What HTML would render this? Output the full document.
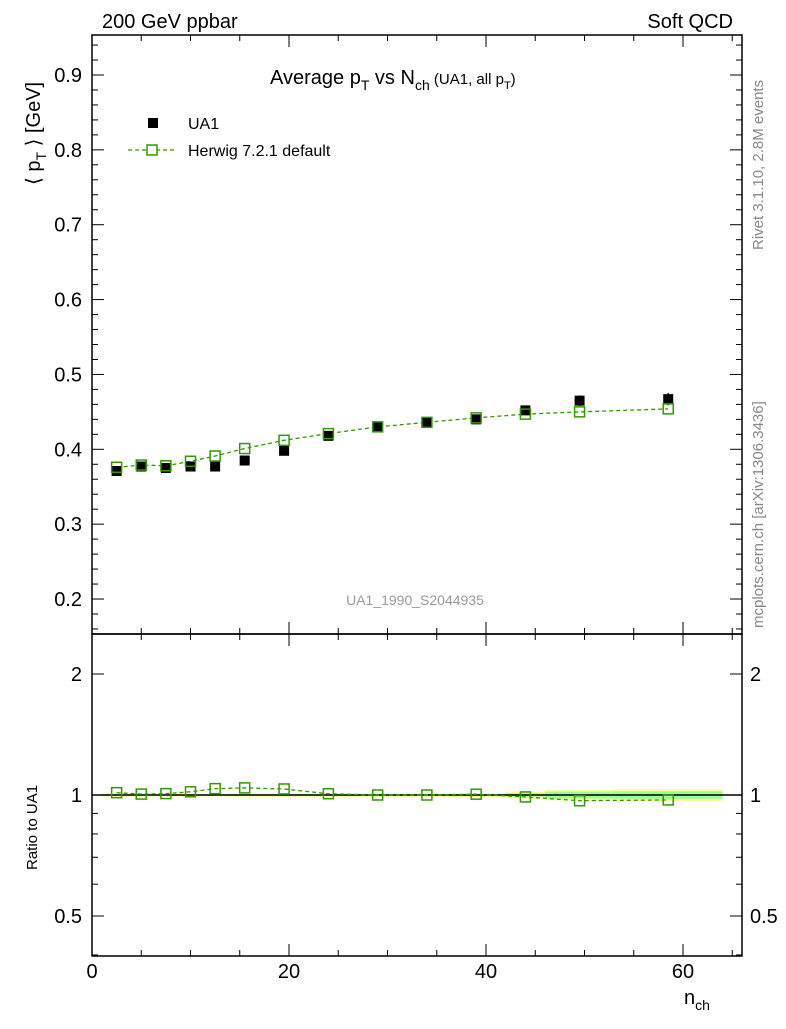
<!DOCTYPE html>
<html><head><meta charset="utf-8"><style>
body{margin:0;background:#fff;}
svg text{font-family:"Liberation Sans",sans-serif;}
</style></head><body>
<svg id="c" width="786" height="1024" xmlns="http://www.w3.org/2000/svg"></svg>
<script>
const xs=[2.5,5,7.5,10,12.5,15.5,19.5,24,29,34,39,44,49.5,58.5];
const edges=[1,4,6.5,9,11.5,14,17,22,26,32,36,42,46,53,64];
const ua1=[0.371,0.377,0.375,0.377,0.377,0.385,0.398,0.418,0.430,0.436,0.440,0.452,0.465,0.467];
const ua1Err=[0.004,0.003,0.003,0.003,0.003,0.003,0.003,0.004,0.004,0.004,0.005,0.006,0.007,0.008];
const herwig=[0.376,0.379,0.378,0.384,0.391,0.401,0.412,0.421,0.430,0.436,0.442,0.447,0.450,0.454];
const bandTot=[0.01,0.008,0.008,0.008,0.008,0.01,0.01,0.01,0.01,0.01,0.012,0.02,0.03,0.035];
const bandStat=[0.005,0.004,0.004,0.004,0.004,0.005,0.005,0.005,0.005,0.005,0.006,0.01,0.02,0.022];
const yTicks=[0.2,0.3,0.4,0.5,0.6,0.7,0.8,0.9];
const xTicks=[0,20,40,60];
const rTicks=[0.5,1,2];

const svg=document.getElementById('c');
const NS='http://www.w3.org/2000/svg';
function el(t,a,txt){const e=document.createElementNS(NS,t);for(const k in a)e.setAttribute(k,a[k]);if(txt!==undefined)e.textContent=txt;svg.appendChild(e);return e;}
const L=92,R=742,T1=35,B1=634,B2=956;
const X=v=>L+v*(683-92)/60;
const Y=v=>75+(0.9-v)*748.6;
const RY=v=>795-Math.log10(v)*402;

// frames
let f=el('rect',{x:L,y:T1,width:R-L,height:B1-T1,fill:'none',stroke:'#000','stroke-width':1.5});

f=el('rect',{x:L,y:B1,width:R-L,height:B2-B1,fill:'none',stroke:'#000','stroke-width':1.5});


// y ticks main
for(let v=0.16;v<=0.95;v+=0.02){const vv=Math.round(v*100)/100;const maj=Math.abs(vv*10-Math.round(vv*10))<1e-6;const len=maj?12:6;const y=Y(vv);
 el('line',{x1:L,x2:L+len,y1:y,y2:y,stroke:'#000'});el('line',{x1:R-len,x2:R,y1:y,y2:y,stroke:'#000'});}
yTicks.forEach(v=>{const t=el('text',{x:82,y:Y(v)+7,'font-size':20,'text-anchor':'end'},v.toFixed(1));
 });
// x ticks
for(let v=0;v<=65;v+=5){const maj=v%20===0;const len=maj?12:6;
 [[B1,-1],[T1,1],[B2,-1],[B1,1]].forEach(([y0,d])=>el('line',{x1:X(v),x2:X(v),y1:y0,y2:y0+d*len,stroke:'#000'}));}
xTicks.forEach(v=>{const t=el('text',{x:X(v),y:978,'font-size':20,'text-anchor':'middle'},v);
 });
// ratio ticks
[0.4,0.5,0.6,0.7,0.8,0.9,1,2].forEach(v=>{const maj=rTicks.includes(v);const len=maj?12:6;const y=RY(v);
 if(y<B1||y>B2)return;el('line',{x1:L,x2:L+len,y1:y,y2:y,stroke:'#000'});el('line',{x1:R-len,x2:R,y1:y,y2:y,stroke:'#000'});});
rTicks.forEach(v=>{const s=v===0.5?'0.5':String(v);
 let t=el('text',{x:82,y:RY(v)+7,'font-size':20,'text-anchor':'end'},s);
 t=el('text',{x:750,y:RY(v)+7,'font-size':20},s);});

// ratio bands
xs.forEach((x,i)=>{
 let r=el('rect',{x:X(edges[i]),y:RY(1+bandTot[i]),width:X(edges[i+1])-X(edges[i]),height:RY(1-bandTot[i])-RY(1+bandTot[i]),fill:'#ffff99'});
 
 r=el('rect',{x:X(edges[i]),y:RY(1+bandStat[i]),width:X(edges[i+1])-X(edges[i]),height:RY(1-bandStat[i])-RY(1+bandStat[i]),fill:'#99ff99'});
 
});
el('line',{x1:L,x2:R,y1:RY(1),y2:RY(1),stroke:'#000','stroke-width':1.5});

// herwig main line
const green='#339900';
let pl=el('polyline',{points:xs.map((x,i)=>X(x)+','+Y(herwig[i])).join(' '),fill:'none',stroke:green,'stroke-width':1.3,'stroke-dasharray':'4,3'});

const ratio=herwig.map((h,i)=>h/ua1[i]);
pl=el('polyline',{points:xs.map((x,i)=>X(x)+','+RY(ratio[i])).join(' '),fill:'none',stroke:green,'stroke-width':1.3,'stroke-dasharray':'4,3'});


// UA1 points
xs.forEach((x,i)=>{
 const l=el('line',{x1:X(x),x2:X(x),y1:Y(ua1[i]+ua1Err[i]),y2:Y(ua1[i]-ua1Err[i]),stroke:'#000','stroke-width':1.5});
 
 const r=el('rect',{x:X(x)-5,y:Y(ua1[i])-5,width:10,height:10,fill:'#000'});
 
});
xs.forEach((x,i)=>{
 let r=el('rect',{x:X(x)-5,y:Y(herwig[i])-5,width:10,height:10,fill:'none',stroke:green,'stroke-width':1.5});
 
 r=el('rect',{x:X(x)-5,y:RY(ratio[i])-5,width:10,height:10,fill:'none',stroke:green,'stroke-width':1.5});
 
});

// texts
function tx(a,s,name){const t=el('text',a,s);return t;}
tx({x:102,y:28,'font-size':20},'200 GeV ppbar','header-left');
tx({x:733,y:28,'font-size':20,'text-anchor':'end'},'Soft QCD','header-right');
const ti=tx({x:270,y:84,'font-size':20},'','title');
ti.innerHTML='Average p<tspan font-size="14" dy="6">T</tspan><tspan dy="-6"> vs N</tspan><tspan font-size="14" dy="6">ch</tspan><tspan dy="-6" font-size="15"> (UA1, all p</tspan><tspan font-size="11" dy="5">T</tspan><tspan font-size="15" dy="-5">)</tspan>';
const yl=tx({x:0,y:0,'font-size':20,transform:'translate(40,185) rotate(-90)'},'','y-axis-title');
yl.innerHTML='⟨ p<tspan font-size="14" dy="6">T</tspan><tspan dy="-6"> ⟩ [GeV]</tspan>';
tx({x:0,y:0,'font-size':15,transform:'translate(37,870) rotate(-90)'},'Ratio to UA1','ratio-axis-title');
const xl=tx({x:684,y:1004,'font-size':20},'','x-axis-title');
xl.innerHTML='n<tspan font-size="14" dy="6">ch</tspan>';
tx({x:0,y:0,'font-size':15,fill:'#888',transform:'translate(763,250) rotate(-90)'},'Rivet 3.1.10,  2.8M events','rivet-label');
tx({x:0,y:0,'font-size':15,fill:'#888',transform:'translate(763,628) rotate(-90)'},'mcplots.cern.ch [arXiv:1306.3436]','mcplots-label');
tx({x:415,y:605,'font-size':14,fill:'#999','text-anchor':'middle'},'UA1_1990_S2044935','analysis-label');
// legend
let r=el('rect',{x:148,y:118,width:10,height:10,fill:'#000'});
tx({x:188,y:129,'font-size':16},'UA1','legend-ua1-label');
let l=el('line',{x1:128,x2:176,y1:150,y2:150,stroke:green,'stroke-width':1.3,'stroke-dasharray':'4,3'});
r=el('rect',{x:147,y:145,width:10,height:10,fill:'#fff',stroke:green,'stroke-width':1.5});
tx({x:188,y:156,'font-size':16},'Herwig 7.2.1 default','legend-herwig-label');
</script>
</body></html>
